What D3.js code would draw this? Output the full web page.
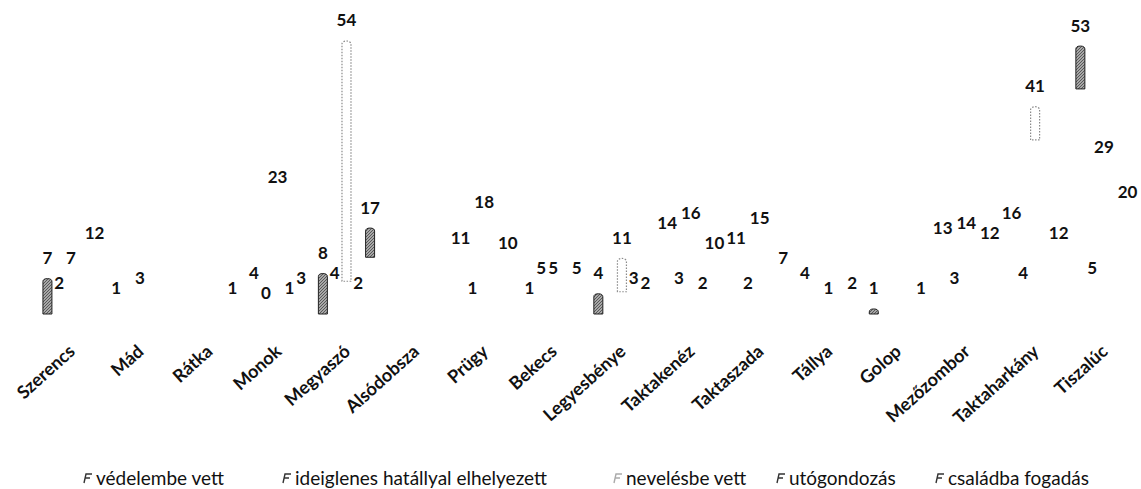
<!DOCTYPE html>
<html>
<head>
<meta charset="utf-8">
<script src="https://cdn.jsdelivr.net/npm/d3@7"></script>
<style>
  html, body { margin: 0; padding: 0; background: #fff; }
  svg { display: block; }
</style>
</head>
<body>
<div id="chart"></div>
<script>
var categories = ['Szerencs', 'Mád', 'Rátka', 'Monok', 'Megyaszó', 'Alsódobsza', 'Prügy', 'Bekecs',
    'Legyesbénye', 'Taktakenéz', 'Taktaszada', 'Tállya', 'Golop', 'Mezőzombor', 'Taktaharkány', 'Tiszalúc'];

var seriesNames = ['védelembe vett', 'ideiglenes hatállyal elhelyezett', 'nevelésbe vett', 'utógondozás', 'családba fogadás'];

// one array per series, in category order (null = no label shown in the scan)
var vedelembeVett   = [7, 1, null, 4, 8, null, 11, 1, 4, 14, 11, 4, 1, 13, 16, 53];
var ideiglenes      = [2, null, null, 0, 4, null, 1, 5, null, 3, 2, null, null, 3, 4, 5];
var nevelesbeVett   = [7, 3, null, 23, 54, null, 18, 5, 11, 16, 15, 1, null, 14, 41, 29];
var utogondozas     = [null, null, null, 1, 2, null, null, null, 3, 2, null, null, null, null, null, null];
var csaladbaFogadas = [12, null, 1, 3, 17, null, 10, 5, 2, 10, 7, 2, 1, 12, 12, 20];

var seriesValues = [vedelembeVett, ideiglenes, nevelesbeVett, utogondozas, csaladbaFogadas];

// bars that survived the faded scan: [category, series index, visible part from the top]
var visibleBars = [
    ['Szerencs', 0, 1], ['Megyaszó', 0, 1], ['Megyaszó', 2, 0.88], ['Megyaszó', 4, 0.34],
    ['Legyesbénye', 0, 1], ['Legyesbénye', 2, 0.6], ['Golop', 0, 1],
    ['Taktaharkány', 2, 0.16], ['Tiszalúc', 0, 0.16]
];

var width = 1141, height = 489;

var svg = d3.select('#chart').append('svg')
        .attr('width', width)
        .attr('height', height)
        .style('background', '#fff');

var x = d3.scaleBand()
        .domain(categories)
        .range([36.6, 1138.4])
        .padding(0);

var xs = d3.scalePoint()
        .domain(d3.range(seriesNames.length))
        .range([-23.6, 23.6]);

var y = d3.scaleLinear()
        .domain([0, 54])
        .range([314, 41]);

var cx = function(cat, s){ return x(cat) + x.bandwidth() / 2 + xs(s); };

var cells = [];
seriesValues.forEach(function(vals, s){
    vals.forEach(function(v, i){
        if (v !== null) cells.push({cat: categories[i], s: s, v: v});
    });
});

// cylinder outline from the value top down to a given y
var cylPath = function(xc, top, bottom){
    var bw = 9, r = bw / 2, ry = 3;
    return 'M' + (xc - r) + ',' + bottom +
        ' L' + (xc - r) + ',' + (top + ry) +
        ' A' + r + ',' + ry + ' 0 0 1 ' + (xc + r) + ',' + (top + ry) +
        ' L' + (xc + r) + ',' + bottom + ' Z';
};

// all bars (white, as in the faded print)
var bars = svg.append('g').attr('class', 'bars');
bars.selectAll('path.bar')
        .data(cells)
        .enter().append('path')
        .attr('class', 'bar')
        .attr('d', function(d){ return cylPath(cx(d.cat, d.s), y(d.v), y(0)); })
        .attr('fill', '#fff');

// the fragments still visible
var pat = svg.append('defs').append('pattern')
        .attr('id', 'hatch')
        .attr('patternUnits', 'userSpaceOnUse')
        .attr('width', 3).attr('height', 3);
pat.append('rect').attr('width', 3).attr('height', 3).attr('fill', '#a8a8a8');
pat.append('path').attr('d', 'M0,3 L3,0').attr('stroke', '#444').attr('stroke-width', 0.8);

var lookup = {};
cells.forEach(function(d){ lookup[d.cat + '|' + d.s] = d; });

bars.selectAll('path.frag')
        .data(visibleBars)
        .enter().append('path')
        .attr('class', 'frag')
        .attr('d', function(b){
            var d = lookup[b[0] + '|' + b[1]];
            var top = y(d.v), bottom = top + (y(0) - top) * b[2];
            return cylPath(cx(d.cat, d.s), top, bottom);
        })
        .attr('fill', function(b){ return b[1] == 2 ? 'none' : 'url(#hatch)'; })
        .attr('stroke', function(b){ return b[1] == 2 ? '#8a8a8a' : '#222'; })
        .attr('stroke-width', function(b){ return b[1] == 2 ? 1.2 : 1; })
        .attr('stroke-dasharray', function(b){ return b[1] == 2 ? '1.5,1.5' : null; });

// data labels
svg.append('g').attr('class', 'data-labels')
        .selectAll('text')
        .data(cells)
        .enter().append('text')
        .attr('x', function(d){ return cx(d.cat, d.s); })
        .attr('y', function(d){ return y(d.v) - 20.5; })
        .attr('dy', '0.35em')
        .attr('text-anchor', 'middle')
        .style('font', 'bold 17px Lato, "Open Sans", sans-serif')
        .style('fill', '#111')
        .text(function(d){ return d.v; });

// category axis labels
svg.append('g').attr('class', 'x-labels')
        .selectAll('text')
        .data(categories)
        .enter().append('text')
        .attr('transform', function(c){
            return 'translate(' + (x(c) + x.bandwidth() / 2 - 4) + ',' + 343 + ')rotate(-42)';
        })
        .attr('dy', '0.75em')
        .attr('text-anchor', 'end')
        .style('font', 'bold 18px Lato, "Open Sans", sans-serif')
        .style('fill', '#111')
        .text(function(c){ return c; });

// legend
var legendX = [96, 295, 626, 789, 948];
var legend = svg.append('g').attr('class', 'legend');
var items = legend.selectAll('g')
        .data(seriesNames)
        .enter().append('g')
        .attr('transform', function(n, i){ return 'translate(' + legendX[i] + ',478)'; });

items.append('path')
        .attr('d', 'M-12,5 L-10,-4 L-4,-4 M-11,0 L-6,0')
        .attr('fill', 'none')
        .attr('stroke', function(n, i){ return i == 2 ? '#aaa' : '#333'; })
        .attr('stroke-width', 1.4);

items.append('text')
        .attr('x', 0)
        .attr('dy', '0.35em')
        .style('font', '19px Lato, "Open Sans", sans-serif')
        .style('fill', '#111')
        .text(function(n){ return n; });
</script>
</body>
</html>
